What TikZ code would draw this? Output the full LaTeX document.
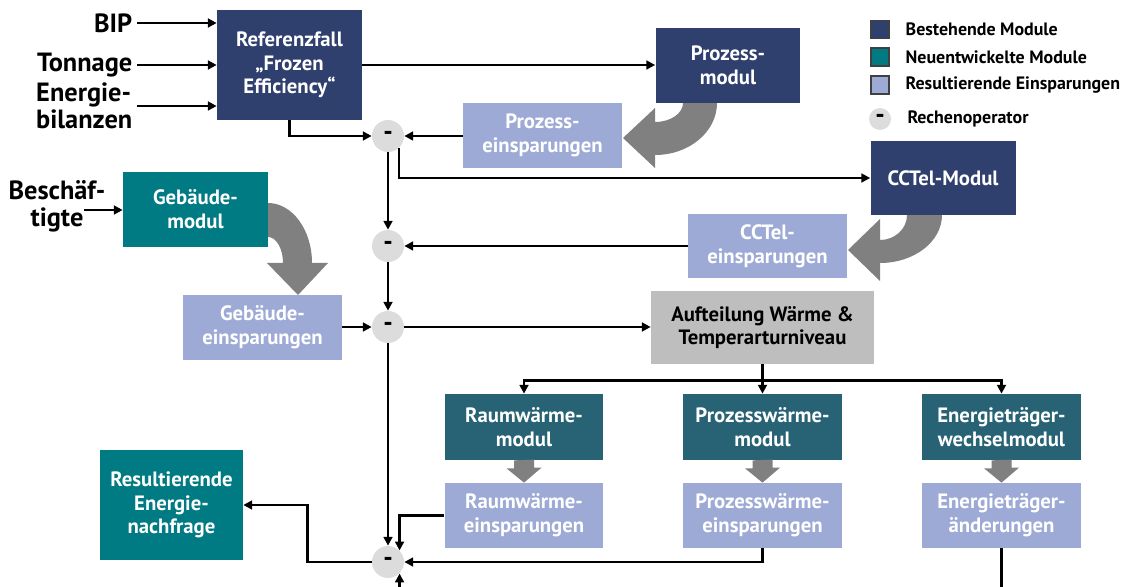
\documentclass[tikz,border=0pt]{standalone}
\usepackage{fontspec}
\setmainfont{PT Sans}
\usetikzlibrary{arrows.meta, calc, positioning}
\definecolor{altblau}{RGB}{47,63,110}
\definecolor{neugruen}{RGB}{0,122,131}
\definecolor{tiefgruen}{RGB}{39,99,117}
\definecolor{hellblau}{RGB}{157,170,214}
\definecolor{pfeilgrau}{RGB}{128,128,128}
\definecolor{teilgrau}{RGB}{190,190,190}
\definecolor{opgrau}{RGB}{220,220,220}

\begin{document}
\begin{tikzpicture}[x=0.02cm, y=-0.02cm,
  box/.style={rectangle, align=center, text=white, inner sep=0pt, font=\fontsize{11.8}{13.5}\selectfont\bfseries},
  modul/.style={box, fill=altblau, minimum width=2.9cm, minimum height=1.5cm},
  neumodul/.style={box, fill=neugruen, minimum width=2.9cm, minimum height=1.5cm},
  waermemodul/.style={box, fill=tiefgruen, minimum width=3.18cm, minimum height=1.32cm},
  einsparung/.style={box, fill=hellblau, minimum width=3.18cm, minimum height=1.3cm},
  eingang/.style={inner sep=0pt, inner xsep=2.5pt, font=\fontsize{15}{15.5}\selectfont\bfseries},
  op/.style={circle, fill=opgrau, minimum size=0.64cm, inner sep=0pt, font=\fontsize{15}{15}\selectfont\bfseries},
  legquad/.style={rectangle, draw=black!75, line width=0.6pt, minimum size=0.36cm, inner sep=0pt},
  legtext/.style={inner sep=0pt, font=\fontsize{10.2}{11}\selectfont\bfseries},
  arr/.style={-{Triangle[length=5pt,width=5pt]}, line width=1.35pt},
  pfeil/.style={fill=pfeilgrau}]
\clip (0,0) rectangle (1125,587);

% breite graue Pfeile
\fill[pfeil] (683,103) arc[start angle=0, end angle=90, x radius=28, y radius=19] -- (655,108) -- (623,138) -- (655,168) -- (655,155) arc[start angle=90, end angle=0, x radius=62, y radius=52] -- cycle;
\fill[pfeil] (907,215) arc[start angle=0, end angle=90, x radius=27, y radius=25] -- (880,219) -- (848,250) -- (880,281) -- (880,263) arc[start angle=90, end angle=0, x radius=62, y radius=48] -- cycle;
\fill[pfeil] (268,203) arc[start angle=-90, end angle=0, x radius=44, y radius=60] -- (328,263) -- (298,295) -- (267,263) -- (283,263) arc[start angle=0, end angle=-90, x radius=15, y radius=26] -- cycle;

% Module
\node[modul, minimum height=2.2cm] (ref)   at (289.5,65)  {Referenzfall\\„Frozen\\Efficiency“};
\node[modul]                       (prozmod) at (728,65.5) {Prozess-\\modul};
\node[einsparung]                  (prozein) at (542.5,135.5) {Prozess-\\einsparungen};
\node[modul]                       (cctel)   at (943,178)  {CCTel-Modul};
\node[einsparung]                  (cctelein) at (767.5,246) {CCTel-\\einsparungen};
\node[neumodul]                    (gebmod)  at (195.5,209.5) {Gebäude-\\modul};
\node[einsparung]                  (gebein)  at (262.5,327.5) {Gebäude-\\einsparungen};
\node[box, fill=teilgrau, text=black, minimum width=4.46cm, minimum height=1.46cm] (auft) at (762.5,327.5) {Aufteilung Wärme \&\\Temperarturniveau};
\node[waermemodul]                 (rwmod)   at (524,427)  {Raumwärme-\\modul};
\node[waermemodul]                 (pwmod)   at (762.5,427) {Prozesswärme-\\modul};
\node[waermemodul]                 (etmod)   at (1001.5,427) {Energieträger-\\wechselmodul};
\node[einsparung]                  (rwein)   at (524,515.5) {Raumwärme-\\einsparungen};
\node[einsparung]                  (pwein)   at (762.5,515.5) {Prozesswärme-\\einsparungen};
\node[einsparung]                  (etein)   at (1001.5,515.5) {Energieträger-\\änderungen};
\node[neumodul, minimum width=2.86cm, minimum height=2.2cm] (resnach) at (171.5,505) {Resultierende\\Energie-\\nachfrage};

% Rechenoperatoren
\node[op] (op1) at (388,136) {-};
\node[op] (op2) at (388,246) {-};
\node[op] (op3) at (388,327) {-};
\node[op] (op4) at (388,562) {-};

% Eingangsgroessen
\node[eingang, anchor=east] (bip)  at (137,23)  {BIP};
\node[eingang, anchor=east] (tonn) at (137,65)  {Tonnage};
\node[eingang, anchor=east, align=left] (ebil) at (137,106) {Energie-\\bilanzen};
\node[eingang, align=center] (besch) at (57,206) {Beschäf-\\tigte};
\coordinate (beschout) at (84,210);

\draw[arr] (bip) -- (bip -| ref.west);
\draw[arr] (tonn) -- (tonn -| ref.west);
\draw[arr] (ebil) -- (ebil -| ref.west);
\draw[arr] (beschout) -- (beschout -| gebmod.west);

% Verbindungen
\draw[arr] (ref.east) -- (ref.east -| prozmod.west);
\draw[arr] (ref.south) |- (op1);
\draw[arr] (prozein.west |- op1) -- (op1);
\draw[arr] (op1.-48) |- (cctel.west);
\draw[arr] (op1) -- (op2);
\draw[arr] (cctelein.west |- op2) -- (op2);
\draw[arr] (op2) -- (op3);
\draw[arr] (gebein.east |- op3) -- (op3);
\draw[arr] (op3) -- (op3 -| auft.west);
\coordinate (verteil) at ($(auft.south)+(0,16)$);
\draw[arr] (auft.south) -- (pwmod.north);
\draw[arr] (verteil) -| (rwmod.north);
\draw[arr] (verteil) -| (etmod.north);
\foreach \m/\e in {rwmod/rwein, pwmod/pwein, etmod/etein}
  \fill[pfeil] ($(\m.south)+(-10,0)$) -- ++(0,8) -- ++(-7.5,0) -- (\e.north) -- ++(17.5,-15) -- ++(-7.5,0) -- ++(0,-8) -- cycle;
\draw[arr] (op3) -- (op4);
\draw[arr] (rwein.west) -| (op4.north east);
\draw[arr] (pwein.south) |- (op4.east);
\draw[arr] (etein.south) -- ++(0,60) -| (op4.south east);
\draw[arr] (op4.west) -| ($(resnach.east)!.5!(op4.west)$) |- (resnach.east);

% Legende
\node[legquad, fill=altblau]   (l1) at (880,29.5) {};
\node[legquad, fill=neugruen]  (l2) at (880,57)   {};
\node[legquad, fill=hellblau]  (l3) at (880,85)   {};
\node[op, minimum size=0.44cm] (l4) at (880,119)  {-};
\node[legtext, right=9pt of l1] {Bestehende Module};
\node[legtext, right=9pt of l2] {Neuentwickelte Module};
\node[legtext, right=9pt of l3] {Resultierende Einsparungen};
\node[legtext, right=9pt of l4] {Rechenoperator};
\end{tikzpicture}
\end{document}
